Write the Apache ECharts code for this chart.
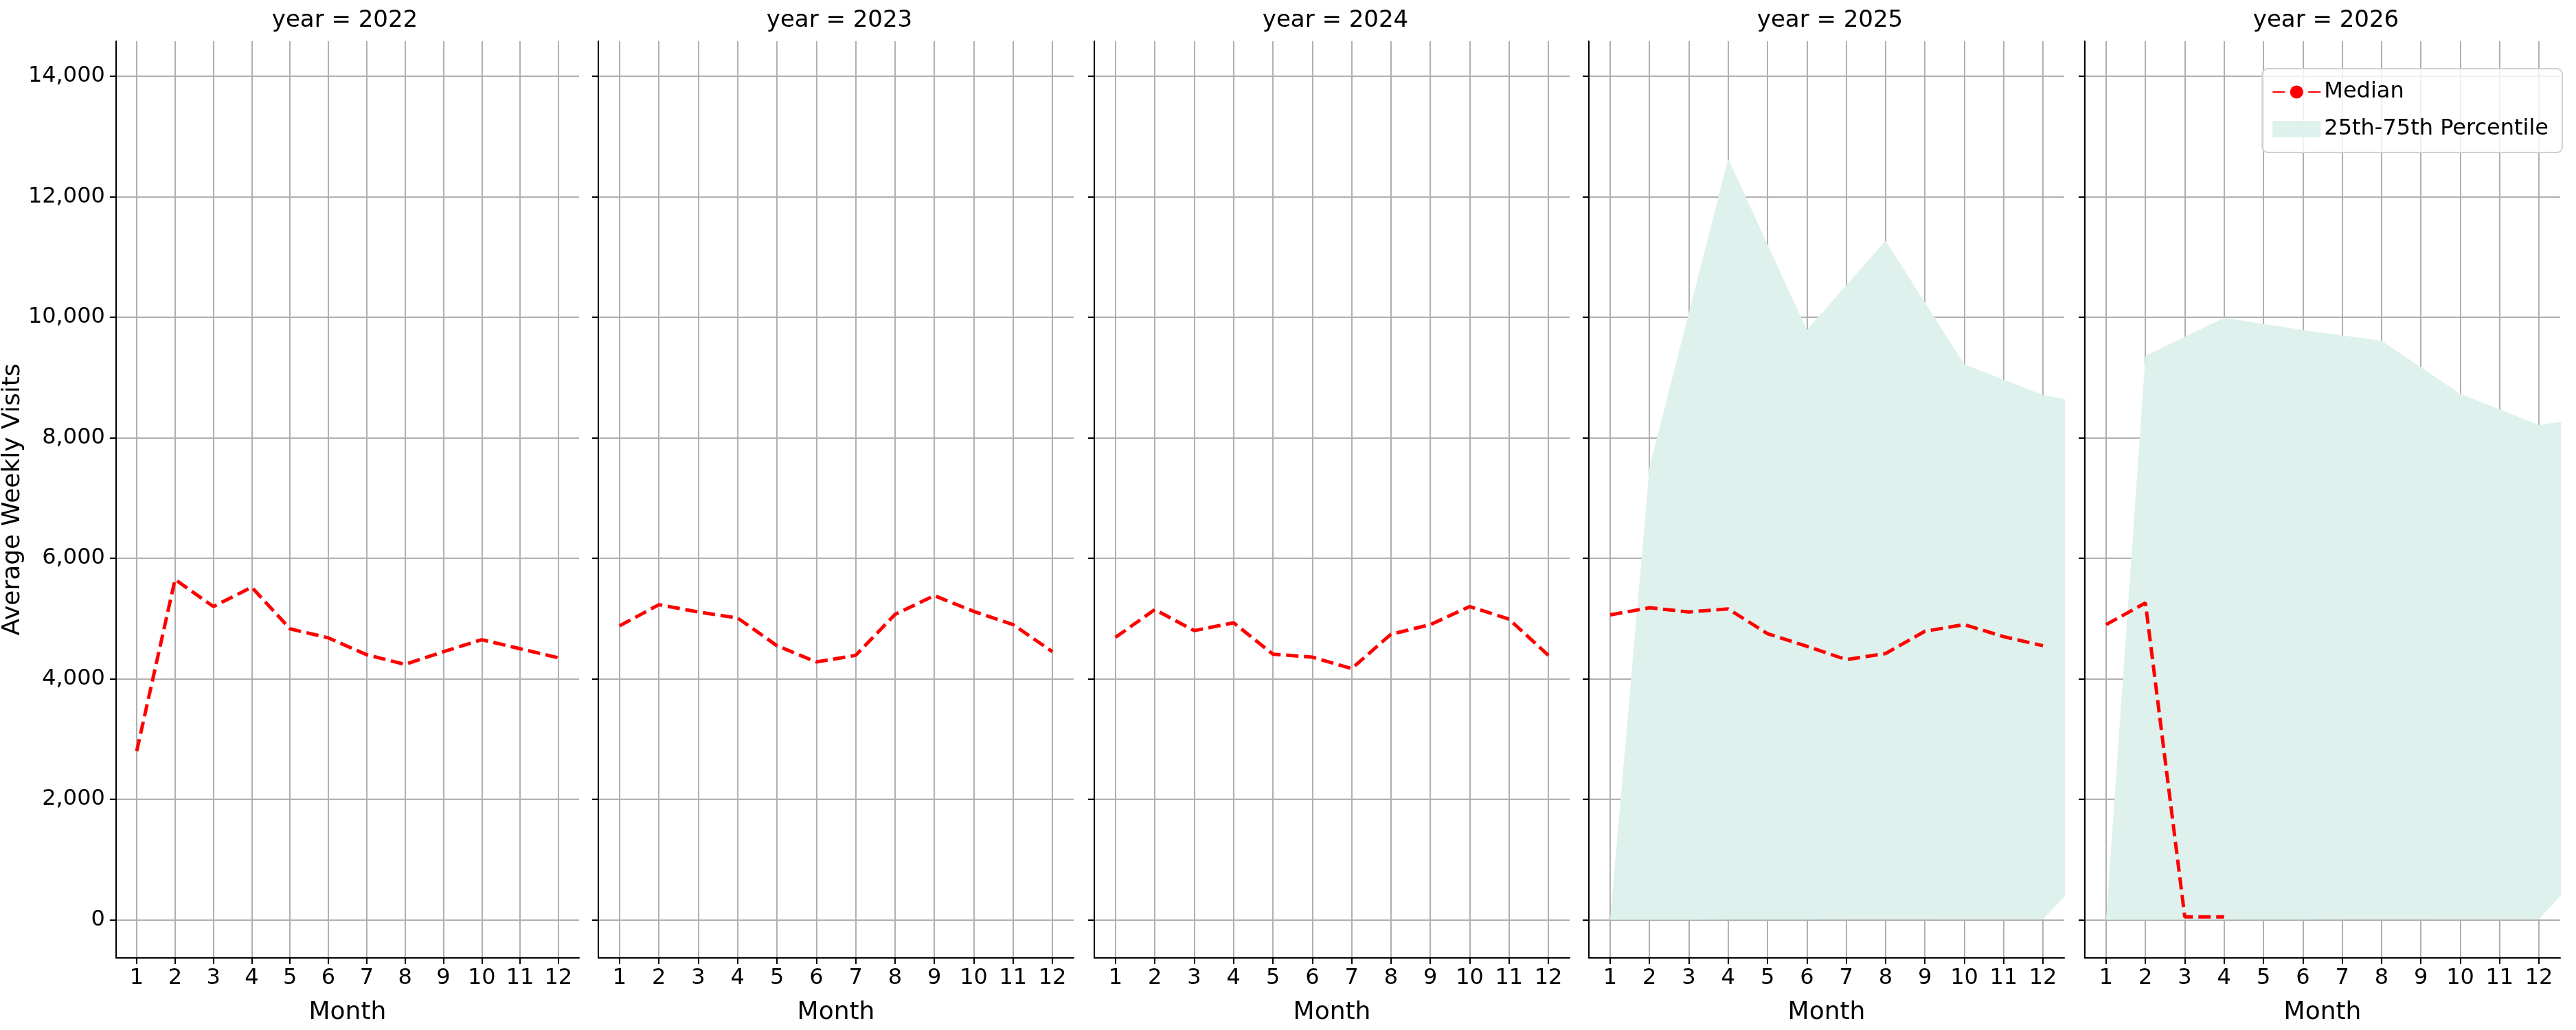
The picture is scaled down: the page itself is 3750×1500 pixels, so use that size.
<!DOCTYPE html>
<html>
<head>
<meta charset="utf-8">
<script src="https://cdn.jsdelivr.net/npm/echarts@6/dist/echarts.min.js"></script>
<style>html,body{margin:0;padding:0;background:#fff}#main{width:3750px;height:1500px}</style>
</head>
<body>
<div id="main"></div>
<script>
// 数据
var years = [2022, 2023, 2024, 2025, 2026];
var months = [1, 2, 3, 4, 5, 6, 7, 8, 9, 10, 11, 12];
var yTicks = [0, 2000, 4000, 6000, 8000, 10000, 12000, 14000];

var median2022 = [2800, 5650, 5200, 5520, 4830, 4680, 4400, 4240, 4450, 4650, 4500, 4350];
var median2023 = [4880, 5230, 5110, 5010, 4550, 4280, 4390, 5070, 5380, 5120, 4900, 4450];
var median2024 = [4690, 5150, 4800, 4930, 4410, 4360, 4170, 4740, 4900, 5200, 4990, 4390];
var median2025 = [5060, 5180, 5110, 5160, 4750, 4540, 4320, 4420, 4790, 4900, 4700, 4550];
var median2026 = [4900, 5260, 50, 50];

var p25_2025 = [650, 1270, 1200, 1460, 1280, 1250, 1140, 1120, 1160, 1230, 1200, 1150];
var p75_2025 = [8160, 13900, 10990, 12730, 10500, 9960, 9600, 9390, 9630, 10230, 9830, 9500];
var p25_2026 = [1270, 1380, 1360, 1330, 1200, 1130, 1150, 1340, 1410, 1360, 1310, 1180];
var p75_2026 = [10630, 11370, 11150, 10940, 9930, 9340, 9560, 11050, 11740, 11190, 10720, 9780];

var medians = [median2022, median2023, median2024, median2025, median2026];
var lows = [null, null, null, p25_2025, p25_2026];
var highs = [null, null, null, p75_2025, p75_2026];

// 布局
var lefts = [151, 871, 1593, 2313, 3035];
var panelW = 692;
var gridTop = 60, gridBottom = 105;
var font = 'DejaVu Sans';
var bandColor = '#dff1ec';

var grid = [], xAxis = [], yAxis = [], title = [], series = [];

for (var i = 0; i < years.length; i++) {
    grid.push({left: lefts[i], width: panelW, top: gridTop, bottom: gridBottom});
    title.push({
        text: 'year = ' + years[i], left: lefts[i] + panelW / 2, top: 8, textAlign: 'center',
        textStyle: {fontFamily: font, fontSize: 34, fontWeight: 'normal', color: '#000'}
    });
    xAxis.push({
        type: 'value', gridIndex: i, min: 0.46, max: 12.54,
        name: 'Month', nameLocation: 'middle', nameGap: 62,
        nameTextStyle: {fontFamily: font, fontSize: 36, color: '#000'},
        axisLine: {onZero: false, lineStyle: {color: '#000', width: 2}},
        axisTick: {show: true, length: 9, lineStyle: {color: '#000', width: 2}, customValues: months},
        axisLabel: {fontFamily: font, fontSize: 32, color: '#000', margin: 14, customValues: months},
        splitLine: {show: true, lineStyle: {color: '#b0b0b0', width: 2}}
    });
    yAxis.push({
        type: 'value', gridIndex: i, min: -630, max: 14580,
        name: i === 0 ? 'Average Weekly Visits' : '', nameLocation: 'middle', nameGap: 120,
        nameTextStyle: {fontFamily: font, fontSize: 36, color: '#000'},
        axisLine: {show: true, lineStyle: {color: '#000', width: 2}},
        axisTick: {show: true, length: 9, lineStyle: {color: '#000', width: 2}, customValues: yTicks},
        axisLabel: {show: i === 0, fontFamily: font, fontSize: 32, color: '#000', margin: 16, customValues: yTicks},
        splitLine: {show: true, lineStyle: {color: '#b0b0b0', width: 2}}
    });

    if (lows[i]) {
        var lo = lows[i], hi = highs[i];
        series.push({
            name: 'lower' + i, type: 'line', xAxisIndex: i, yAxisIndex: i, stack: 'band' + i,
            symbol: 'none', silent: true, lineStyle: {opacity: 0},
            data: months.map(function (m, k) { return [m, lo[k]]; })
        });
        series.push({
            name: '25th-75th Percentile', type: 'line', xAxisIndex: i, yAxisIndex: i, stack: 'band' + i,
            symbol: 'none', silent: true, lineStyle: {opacity: 0}, itemStyle: {color: bandColor},
            areaStyle: {color: bandColor, opacity: 1},
            data: months.map(function (m, k) { return [m, hi[k] - lo[k]]; })
        });
    }
    var md = medians[i];
    series.push({
        name: 'Median', type: 'line', xAxisIndex: i, yAxisIndex: i, symbol: 'none', z: 5,
        itemStyle: {color: '#ff0000'},
        lineStyle: {color: '#ff0000', width: 5, type: [18, 8]},
        data: md.map(function (v, k) { return [months[k], v]; })
    });
}

var option = {
    animation: false,
    backgroundColor: '#fff',
    title: title,
    grid: grid,
    xAxis: xAxis,
    yAxis: yAxis,
    legend: {
        right: 20, top: 100, orient: 'vertical',
        data: [{name: 'Median'}, {name: '25th-75th Percentile', icon: 'rect'}],
        itemWidth: 70, itemHeight: 24, itemGap: 22,
        padding: [18, 20, 18, 14],
        borderColor: '#d0d0d0', borderWidth: 2, borderRadius: 8, backgroundColor: 'rgba(255,255,255,0.8)',
        textStyle: {fontFamily: font, fontSize: 32, color: '#000'}
    },
    series: series
};

var myChart = echarts.init(document.getElementById('main'));
myChart.setOption(option);
</script>
</body>
</html>
